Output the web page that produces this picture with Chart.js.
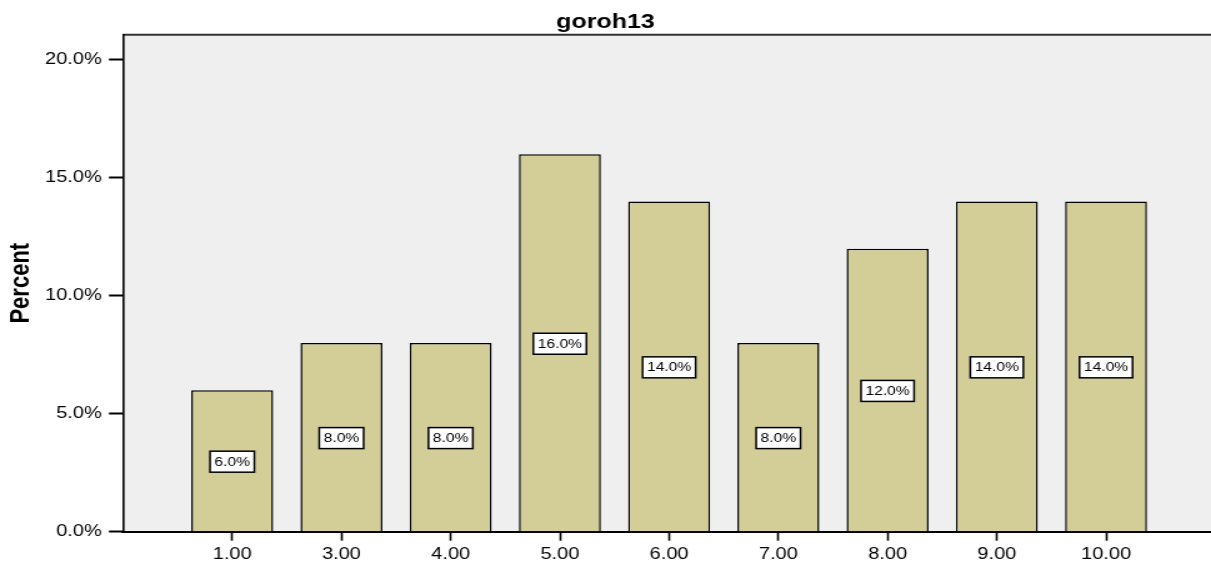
<!DOCTYPE html>
<html>
<head>
<meta charset="utf-8">
<title>goroh13</title>
<script src="https://cdn.jsdelivr.net/npm/chart.js@4/dist/chart.umd.min.js"></script>
<style>
    html, body { margin: 0; padding: 0; background: #fff; overflow: hidden; }
</style>
</head>
<body>
<!-- the old export is stretched sideways, so the canvas is too (inline style so Chart.js keeps it) -->
<canvas id="goroh13Chart" width="969" height="562" style="width: 1211px; height: 562px;"></canvas>
<script>
// chart data
const categories = ['1.00', '3.00', '4.00', '5.00', '6.00', '7.00', '8.00', '9.00', '10.00'];
const percents = [6.0, 8.0, 8.0, 16.0, 14.0, 8.0, 12.0, 14.0, 14.0];
const yTicks = [0, 5, 10, 15, 20];

const FONT = '"Liberation Sans", Arial, sans-serif';

// grey plot background and the dark top edge
const plotFrame = {
    id: 'plotFrame',
    beforeDraw(chart) {
        const { ctx, chartArea: a } = chart;
        ctx.save();
        ctx.fillStyle = '#efefef';
        ctx.fillRect(a.left, a.top, a.right - a.left, a.bottom - a.top);
        ctx.strokeStyle = '#333';
        ctx.lineWidth = 2;
        ctx.beginPath();
        ctx.moveTo(a.left, a.top);
        ctx.lineTo(a.right, a.top);
        ctx.stroke();
        ctx.restore();
    }
};

// boxed percent labels in the middle of every bar
const barLabels = {
    id: 'barLabels',
    afterDatasetsDraw(chart) {
        const ctx = chart.ctx;
        const meta = chart.getDatasetMeta(0);
        ctx.save();
        ctx.font = '12.5px ' + FONT;
        ctx.textAlign = 'center';
        ctx.textBaseline = 'middle';
        meta.data.forEach((bar, i) => {
            const text = percents[i].toFixed(1) + '%';
            const cy = (bar.y + bar.base) / 2 + 1;
            const w = ctx.measureText(text).width + 7;
            const h = 21;
            ctx.fillStyle = '#fff';
            ctx.fillRect(bar.x - w / 2, cy - h / 2, w, h);
            ctx.strokeStyle = '#000';
            ctx.lineWidth = 1.5;
            ctx.strokeRect(bar.x - w / 2, cy - h / 2, w, h);
            ctx.fillStyle = '#000';
            ctx.fillText(text, bar.x, cy + 0.5);
        });
        ctx.restore();
    }
};

const ctx = document.getElementById('goroh13Chart').getContext('2d');
window.goroh13Chart = new Chart(ctx, {
    type: 'bar',
    data: {
        datasets: [{
            label: 'Percent',
            data: percents.map((p, i) => ({ x: i + 1, y: p })),
            backgroundColor: '#d3ce98',
            borderColor: '#000',
            borderWidth: 1.5,
            categoryPercentage: 1,
            barPercentage: 0.75
        }]
    },
    options: {
        responsive: false,
        animation: false,
        devicePixelRatio: 1,
        layout: { padding: 0 },
        plugins: {
            legend: { display: false },
            tooltip: { enabled: false },
            title: {
                display: true,
                text: 'goroh13',
                color: '#000',
                font: { family: FONT, size: 20, weight: 'bold' },
                padding: { top: 10.4, bottom: 0.3 }
            }
        },
        scales: {
            x: {
                type: 'linear',
                min: 0,
                max: 9.961,
                offset: false,
                afterBuildTicks: axis => {
                    axis.ticks = axis.ticks.filter(t => t.value >= 1 && t.value <= categories.length);
                },
                afterFit: axis => { axis.height = 30.3; },
                grid: {
                    offset: false,
                    drawOnChartArea: false,
                    drawTicks: true,
                    tickLength: 9,
                    tickWidth: 1.6,
                    tickColor: '#000'
                },
                border: { display: true, color: '#000', width: 2 },
                ticks: {
                    stepSize: 1,
                    autoSkip: false,
                    maxRotation: 0,
                    padding: 4,
                    color: '#000',
                    font: { family: FONT, size: 16 },
                    callback: v => categories[v - 1]
                }
            },
            y: {
                min: 0,
                max: 21.07,
                afterBuildTicks: axis => {
                    axis.ticks = yTicks.map(v => ({ value: v }));
                },
                afterFit: axis => { axis.width = 98.4; },
                grid: {
                    drawOnChartArea: false,
                    drawTicks: true,
                    tickLength: 11.2,
                    tickWidth: 2,
                    tickColor: '#000'
                },
                border: { display: true, color: '#000', width: 1.6 },
                ticks: {
                    padding: 5.8,
                    color: '#000',
                    font: { family: FONT, size: 16 },
                    callback: v => v.toFixed(1) + '%'
                },
                title: {
                    display: true,
                    text: 'Percent',
                    color: '#000',
                    font: { family: FONT, size: 22, weight: 'bold' },
                    padding: { top: 3.5, bottom: 0 }
                }
            }
        }
    },
    plugins: [plotFrame, barLabels]
});
</script>
</body>
</html>
